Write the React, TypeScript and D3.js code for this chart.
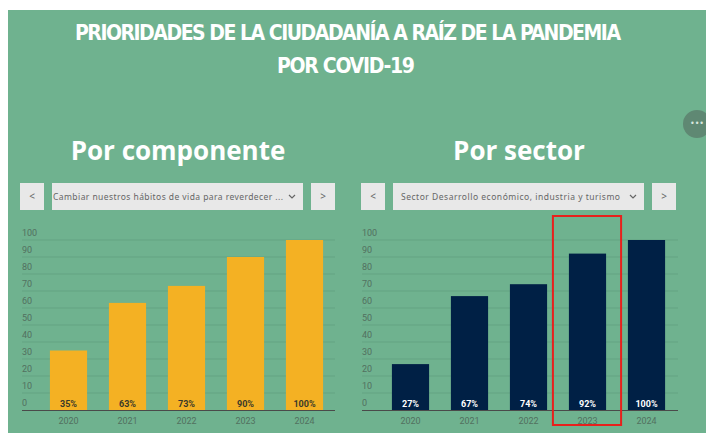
import React, { useRef, useEffect } from "react";
import * as d3 from "d3";

// Datos del panel
const years = ["2020", "2021", "2022", "2023", "2024"];
const componentValues = [35, 63, 73, 90, 100];
const sectorValues = [27, 67, 74, 92, 100];
const yTicks = [0, 10, 20, 30, 40, 50, 60, 70, 80, 90, 100];
const highlightYear = "2023";

const title1 = "PRIORIDADES DE LA CIUDADANÍA A RAÍZ DE LA PANDEMIA";
const title2 = "POR COVID-19";
const componentLabel = "Cambiar nuestros hábitos de vida para reverdecer ...";
const sectorLabel = "Sector Desarrollo económico, industria y turismo";

const W = 706,
  H = 439;
const GREEN = "#6fb28f";

const App = () => {
  const ref = useRef<SVGSVGElement>(null);

  useEffect(() => {
    const svg = d3.select(ref.current);
    svg.selectChildren().remove();

    // Fondo
    svg.append("rect").attr("width", W).attr("height", H).attr("fill", "#fff");
    svg
      .append("rect")
      .attr("x", 8)
      .attr("y", 10)
      .attr("width", W - 8)
      .attr("height", 423)
      .attr("fill", GREEN);

    // Títulos
    const titles = svg
      .append("g")
      .attr("fill", "#fff")
      .attr("text-anchor", "middle")
      .style("font-family", "'Liberation Sans Narrow', 'DejaVu Sans Condensed', sans-serif")
      .style("font-weight", "bold")
      .style("font-size", "21px");
    titles.append("text").attr("x", 348).attr("y", 40).attr("textLength", 546).text(title1);
    titles.append("text").attr("x", 346).attr("y", 73).attr("textLength", 138).text(title2);

    // Botón "..."
    svg
      .append("circle")
      .attr("cx", 697)
      .attr("cy", 124)
      .attr("r", 14)
      .attr("fill", "#5f8873");
    svg
      .append("text")
      .attr("x", 697)
      .attr("y", 126)
      .attr("text-anchor", "middle")
      .attr("fill", "#d8e6de")
      .style("font-family", "DejaVu Sans")
      .style("font-size", "8px")
      .text("•••");

    const y = d3.scaleLinear().domain([0, 100]).range([410, 240]);

    const panel = (
      cx: number,
      heading: string,
      label: string,
      labelX: number,
      labelLen: number,
      values: number[],
      color: string,
      labelColor: string,
      gx0: number,
      gx1: number,
      range: [number, number],
      highlight: boolean
    ) => {
      const g = svg.append("g");
      g.append("text")
        .attr("x", cx)
        .attr("y", 160)
        .attr("text-anchor", "middle")
        .attr("fill", "#fff")
        .style("font-family", "'Open Sans', sans-serif")
        .style("font-weight", "bold")
        .style("font-size", "26px")
        .text(heading);

      // Controles
      const left = cx - 158;
      const btn = (x: number, t: string) => {
        g.append("rect")
          .attr("x", x)
          .attr("y", 183)
          .attr("width", 24)
          .attr("height", 27)
          .attr("fill", "#e8e8e8");
        g.append("text")
          .attr("x", x + 12)
          .attr("y", 200)
          .attr("text-anchor", "middle")
          .attr("fill", "#666")
          .style("font-family", "'Noto Sans', sans-serif")
          .style("font-size", "10px")
          .text(t);
      };
      btn(left, "<");
      btn(left + 291, ">");
      g.append("rect")
        .attr("x", left + 32)
        .attr("y", 183)
        .attr("width", 251)
        .attr("height", 27)
        .attr("fill", "#e8e8e8");
      g.append("text")
        .attr("x", labelX)
        .attr("y", 200)
        .attr("textLength", labelLen)
        .attr("fill", "#666")
        .style("font-family", "'Noto Sans', sans-serif")
        .style("font-size", "8.5px")
        .text(label);
      g.append("path")
        .attr("d", `M${left + 269},195 l3,3 l3,-3`)
        .attr("fill", "none")
        .attr("stroke", "#666")
        .attr("stroke-width", 1.2);

      // Escalas
      const x = d3
        .scaleBand()
        .domain(years)
        .range(range)
        .paddingInner(0.37)
        .paddingOuter(0.185);

      // Rejilla
      g.selectAll("grid")
        .data(yTicks.slice(1))
        .enter()
        .append("line")
        .attr("x1", gx0)
        .attr("x2", gx1)
        .attr("y1", (d) => y(d))
        .attr("y2", (d) => y(d))
        .attr("stroke", "#64a382")
        .attr("stroke-width", 1);

      g.selectAll("ylab")
        .data(yTicks)
        .enter()
        .append("text")
        .attr("x", gx0)
        .attr("y", (d) => y(d) - 4)
        .attr("fill", "#52705f")
        .style("font-family", "Roboto, sans-serif")
        .style("font-size", "9px")
        .text((d) => d);

      // Barras
      g.selectAll("bars")
        .data(values)
        .enter()
        .append("rect")
        .attr("x", (_d, i) => x(years[i])!)
        .attr("width", x.bandwidth())
        .attr("y", (d) => y(d))
        .attr("height", (d) => y(0) - y(d))
        .attr("fill", color);

      g.selectAll("vals")
        .data(values)
        .enter()
        .append("text")
        .attr("x", (_d, i) => x(years[i])! + x.bandwidth() / 2)
        .attr("y", 407)
        .attr("text-anchor", "middle")
        .attr("fill", labelColor)
        .style("font-family", "Roboto, sans-serif")
        .style("font-weight", "bold")
        .style("font-size", "9px")
        .text((d) => `${d}%`);

      g.append("line")
        .attr("x1", gx0)
        .attr("x2", gx1)
        .attr("y1", y(0) + 0.5)
        .attr("y2", y(0) + 0.5)
        .attr("stroke", "#4a4a4a")
        .attr("stroke-width", 1.2);

      g.selectAll("xlab")
        .data(years)
        .enter()
        .append("text")
        .attr("x", (d) => x(d)! + x.bandwidth() / 2)
        .attr("y", 424)
        .attr("text-anchor", "middle")
        .attr("fill", "#52705f")
        .style("font-family", "Roboto, sans-serif")
        .style("font-size", "9px")
        .text((d) => d);

      if (highlight) {
        const hx = x(highlightYear)!;
        g.append("rect")
          .attr("x", hx - 16)
          .attr("y", 216)
          .attr("width", x.bandwidth() + 31)
          .attr("height", 209)
          .attr("fill", "none")
          .attr("stroke", "#e8201c")
          .attr("stroke-width", 2);
      }
    };

    panel(178, "Por componente", componentLabel, 53, 230, componentValues, "#f4b123", "#3a3a2a", 22, 335, [39, 334], false);
    panel(519, "Por sector", sectorLabel, 401, 219, sectorValues, "#002045", "#fff", 362, 678, [381, 676], true);
  }, []);

  return (
    <svg
      ref={ref}
      width={W}
      height={H}
      style={{ position: "absolute", left: 0, top: 0, display: "block" }}
    />
  );
};

export default App;
